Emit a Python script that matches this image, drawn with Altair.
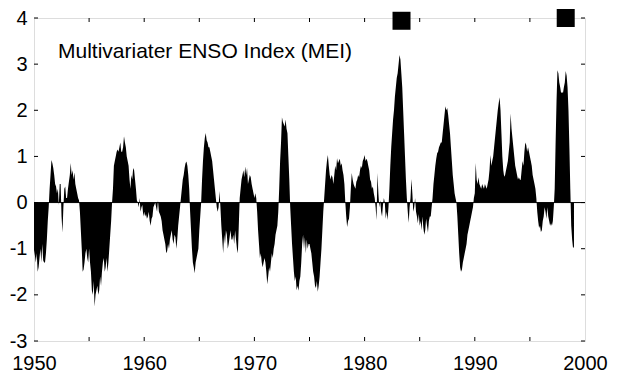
import altair as alt
import pandas as pd

# Monthly MEI values (Jan..Dec)
mei_1950s = [
    [-1.03, -1.15, -1.3, -1.1, -1.5, -1.4, -1.2, -1.0, -1.3, -0.9, -1.25, -1.3],   # 1950
    [-1.3, -1.1, -0.8, -0.4, -0.1, 0.3, 0.6, 0.92, 0.85, 0.75, 0.6, 0.4],          # 1951
    [0.35, 0.2, 0.3, -0.05, 0.4, 0.4, -0.3, -0.65, -0.1, 0.3, 0.35, 0.1],          # 1952
    [0.1, 0.3, 0.45, 0.6, 0.86, 0.6, 0.7, 0.5, 0.65, 0.4, 0.3, 0.2],               # 1953
    [0.1, 0.05, -0.2, -0.6, -1.0, -1.5, -1.45, -1.3, -1.1, -1.0, -1.2, -1.3],      # 1954
    [-1.0, -1.3, -1.5, -1.9, -2.0, -1.7, -2.25, -2.0, -1.9, -1.8, -2.0, -1.9],     # 1955
    [-1.6, -1.8, -1.5, -1.3, -1.2, -1.5, -1.4, -1.2, -1.5, -1.3, -1.0, -0.7],      # 1956
    [-0.4, 0.0, 0.3, 0.8, 0.9, 1.0, 1.1, 1.15, 1.1, 1.2, 1.3, 1.1],                # 1957
    [1.1, 1.2, 1.44, 1.3, 1.2, 1.0, 0.9, 0.8, 0.5, 0.3, 0.6, 0.5],                 # 1958
    [0.75, 0.7, 0.5, 0.3, 0.05, 0.0, -0.1, 0.1, -0.2, -0.1, -0.05, -0.3],          # 1959
]
mei_1960s = [
    [-0.2, -0.3, -0.25, -0.35, -0.3, -0.2, -0.4, -0.5, -0.35, -0.3, -0.1, -0.05],  # 1960
    [0.0, -0.1, -0.2, 0.05, -0.2, -0.25, -0.3, -0.4, -0.6, -0.7, -0.8, -0.9],      # 1961
    [-1.1, -1.05, -0.9, -1.0, -0.8, -0.7, -0.6, -0.8, -0.9, -0.7, -0.75, -1.0],    # 1962
    [-0.8, -0.5, -0.3, -0.1, 0.1, 0.3, 0.5, 0.6, 0.75, 0.85, 0.89, 0.8],           # 1963
    [0.6, 0.3, -0.2, -0.6, -1.0, -1.3, -1.4, -1.53, -1.3, -1.2, -1.1, -1.0],       # 1964
    [-0.6, -0.3, 0.0, 0.5, 0.9, 1.2, 1.4, 1.51, 1.35, 1.3, 1.2, 1.2],              # 1965
    [1.1, 1.0, 0.9, 0.7, 0.5, 0.3, 0.1, -0.1, -0.2, -0.1, 0.25, -0.1],             # 1966
    [-0.5, -0.8, -1.1, -0.7, -0.9, -0.6, -0.7, -1.0, -0.9, -0.75, -0.6, -0.8],     # 1967
    [-0.8, -0.7, -0.9, -0.6, -0.8, -1.0, -1.1, -0.5, 0.1, 0.3, 0.5, 0.6],          # 1968
    [0.7, 0.55, 0.78, 0.6, 0.75, 0.4, 0.5, 0.6, 0.55, 0.4, 0.3, 0.2],              # 1969
]
mei_1970s = [
    [0.1, 0.2, 0.1, -0.2, -0.6, -0.9, -1.2, -1.1, -1.3, -1.4, -1.3, -1.2],         # 1970
    [-1.3, -1.5, -1.77, -1.6, -1.4, -1.5, -1.3, -1.1, -1.2, -1.0, -0.9, -0.7],     # 1971
    [-0.6, -0.5, -0.2, 0.3, 0.9, 1.3, 1.85, 1.75, 1.7, 1.65, 1.8, 1.6],            # 1972
    [1.5, 1.0, 0.5, -0.1, -0.5, -0.9, -1.2, -1.5, -1.7, -1.6, -1.9, -1.8],         # 1973
    [-1.91, -1.7, -1.6, -1.3, -0.9, -0.7, -1.0, -0.75, -1.1, -0.8, -1.0, -0.9],    # 1974
    [-0.9, -1.0, -1.1, -1.3, -1.5, -1.6, -1.8, -1.85, -1.7, -1.93, -1.8, -1.6],    # 1975
    [-1.3, -1.0, -0.6, -0.2, 0.1, 0.4, 0.7, 0.9, 1.03, 0.8, 0.6, 0.5],             # 1976
    [0.6, 0.55, 0.4, 0.6, 0.8, 0.7, 0.96, 0.85, 0.9, 0.95, 0.8, 0.85],             # 1977
    [0.7, 0.6, 0.4, 0.0, -0.3, -0.53, -0.4, -0.35, -0.1, 0.3, 0.64, 0.5],          # 1978
    [0.4, 0.35, 0.3, 0.45, 0.5, 0.6, 0.55, 0.7, 0.8, 0.75, 0.9, 0.95],             # 1979
]
mei_1980s = [
    [1.03, 0.9, 0.95, 0.9, 0.8, 0.7, 0.5, 0.45, 0.3, 0.35, 0.2, 0.1],              # 1980
    [-0.1, -0.38, 0.64, 0.2, -0.1, 0.05, -0.2, -0.3, -0.05, 0.1, 0.0, -0.35],      # 1981
    [-0.2, -0.38, -0.1, 0.3, 0.8, 1.2, 1.5, 1.8, 2.0, 2.3, 2.5, 2.7],              # 1982
    [2.8, 3.0, 3.2, 3.1, 2.8, 2.5, 2.0, 1.5, 1.0, 0.5, 0.1, -0.2],                 # 1983
    [-0.44, -0.1, 0.1, 0.51, 0.2, -0.2, -0.1, 0.1, -0.2, -0.3, -0.45, -0.25],      # 1984
    [-0.5, -0.4, -0.6, -0.3, -0.55, -0.7, -0.6, -0.35, -0.5, -0.65, -0.4, -0.3],   # 1985
    [-0.3, -0.1, 0.1, 0.4, 0.6, 0.8, 0.95, 1.07, 1.1, 1.2, 1.25, 1.3],             # 1986
    [1.3, 1.5, 1.7, 1.9, 2.09, 2.0, 2.05, 1.9, 1.7, 1.5, 1.2, 0.9],                # 1987
    [0.6, 0.4, 0.2, 0.1, 0.0, -0.3, -0.7, -1.1, -1.4, -1.5, -1.45, -1.3],          # 1988
    [-1.2, -1.1, -1.0, -0.9, -0.7, -0.6, -0.5, -0.4, -0.3, -0.2, -0.1, 0.1],       # 1989
]
mei_1990s = [
    [0.2, 0.86, 0.5, 0.4, 0.55, 0.4, 0.35, 0.3, 0.4, 0.35, 0.3, 0.4],              # 1990
    [0.35, 0.3, 0.4, 0.5, 0.7, 1.03, 0.8, 0.9, 1.0, 1.2, 1.4, 1.6],                # 1991
    [1.8, 2.0, 2.15, 2.28, 2.0, 1.5, 1.0, 0.7, 0.56, 0.6, 0.7, 0.8],               # 1992
    [0.9, 1.1, 1.3, 1.93, 1.6, 1.4, 1.2, 1.0, 0.8, 0.7, 0.6, 0.5],                 # 1993
    [0.55, 0.5, 0.49, 0.7, 0.9, 0.8, 1.1, 1.3, 1.25, 1.1, 1.2, 1.1],               # 1994
    [1.0, 0.9, 0.8, 0.6, 0.5, 0.4, 0.3, 0.1, -0.2, -0.4, -0.55, -0.5],             # 1995
    [-0.64, -0.6, -0.4, -0.3, -0.1, -0.2, -0.35, -0.1, -0.3, -0.4, -0.5, -0.45],   # 1996
    [-0.5, -0.4, -0.1, 0.3, 1.3, 2.2, 2.87, 2.8, 2.6, 2.5, 2.37, 2.4],             # 1997
    [2.37, 2.5, 2.6, 2.85, 2.75, 2.5, 2.0, 1.2, 0.3, -0.5, -0.8, -0.99],           # 1998
    [-0.95],                                                                      # 1999
]

title_text = "Multivariater ENSO Index (MEI)"
event_years = [1983.35, 1998.25]
event_values = [3.94, 4.0]
x_label_values = [1950, 1960, 1970, 1980, 1990, 2000]
x_tick_values = [1955, 1960, 1965, 1970, 1975, 1980, 1985, 1990, 1995]
y_tick_values = [-3, -2, -1, 0, 1, 2, 3, 4]

rows = []
for decade_start, decade in zip([1950, 1960, 1970, 1980, 1990],
                                [mei_1950s, mei_1960s, mei_1970s, mei_1980s, mei_1990s]):
    for i, year_vals in enumerate(decade):
        for m, v in enumerate(year_vals):
            rows.append({"t": decade_start + i + m / 12.0, "mei": v})
df = pd.DataFrame(rows)

W, H = 551, 323
FONT = "Liberation Sans"

xscale = alt.Scale(domain=[1950, 2000], nice=False, zero=False)
yscale = alt.Scale(domain=[-3, 4], nice=False, zero=False)

area = alt.Chart(df).mark_area(color="black", interpolate="linear").encode(
    x=alt.X("t:Q", scale=xscale,
            axis=alt.Axis(values=x_label_values, format="d", ticks=False, grid=False,
                          domain=False, labelFontSize=20, labelFont=FONT,
                          labelColor="black", labelPadding=12, labelFlush=False,
                          title=None)),
    y=alt.Y("mei:Q", scale=yscale,
            axis=alt.Axis(values=y_tick_values, ticks=False, grid=False, domain=False,
                          labelFontSize=20, labelFont=FONT, labelColor="black",
                          labelExpr="datum.value < 0 ? '-' + abs(datum.value) : '' + datum.value",
                          labelPadding=7, title=None)),
    y2=alt.datum(0),
)

zero_line = alt.Chart(pd.DataFrame({"z": [0]})).mark_rule(color="black", strokeWidth=1).encode(
    y=alt.Y("z:Q", scale=yscale)
)

xt = pd.DataFrame({"t": x_tick_values})
bottom_ticks = alt.Chart(xt).mark_rule(color="black").encode(
    x=alt.X("t:Q", scale=xscale), y=alt.value(H), y2=alt.value(H - 4))
top_ticks = alt.Chart(xt).mark_rule(color="black").encode(
    x=alt.X("t:Q", scale=xscale), y=alt.value(0), y2=alt.value(4))
yt = pd.DataFrame({"v": y_tick_values})
left_ticks = alt.Chart(yt).mark_rule(color="black").encode(
    y=alt.Y("v:Q", scale=yscale), x=alt.value(0), x2=alt.value(4))
right_ticks = alt.Chart(yt).mark_rule(color="black").encode(
    y=alt.Y("v:Q", scale=yscale), x=alt.value(W), x2=alt.value(W - 4))

squares = alt.Chart(pd.DataFrame({"t": event_years, "v": event_values})).mark_square(
    size=324, color="black", opacity=1, filled=True
).encode(x=alt.X("t:Q", scale=xscale), y=alt.Y("v:Q", scale=yscale))

label = alt.Chart(pd.DataFrame({"s": [title_text]})).mark_text(
    align="left", baseline="alphabetic", fontSize=21, font=FONT, color="black"
).encode(text="s:N", x=alt.value(24), y=alt.value(40))

chart = alt.layer(
    area, zero_line, bottom_ticks, top_ticks, left_ticks, right_ticks, squares, label
).properties(
    width=W, height=H,
    autosize=alt.AutoSizeParams(type="none"),
    padding={"left": 26, "top": 10, "right": 30, "bottom": 36},
).configure_view(stroke="black", strokeWidth=1).configure(background="white")

chart.save("out.html", embed_options={"renderer": "svg", "actions": False})
